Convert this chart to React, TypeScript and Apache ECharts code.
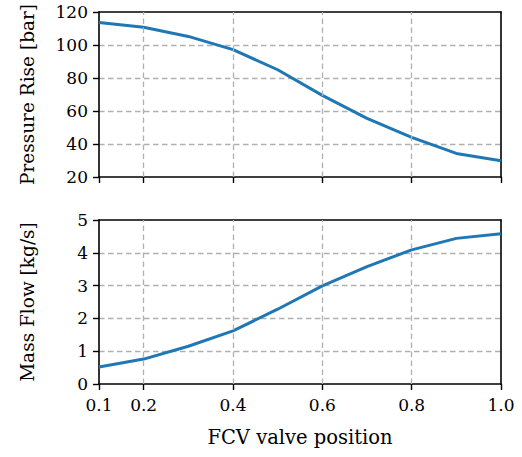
import React, { useEffect, useRef } from "react";
import * as echarts from "echarts";

const valvePosition = [0.1, 0.2, 0.3, 0.4, 0.5, 0.6, 0.7, 0.8, 0.9, 1.0];
const pressureRise = [113.7, 110.8, 105.2, 97.2, 85.0, 69.5, 55.5, 44.0, 34.3, 29.9];
const massFlow = [0.52, 0.76, 1.15, 1.62, 2.28, 2.99, 3.58, 4.09, 4.44, 4.58];
const xTickValues = [0.1, 0.2, 0.4, 0.6, 0.8, 1.0];
const xGridValues = [0.2, 0.4, 0.6, 0.8];

const FONT = "'DejaVu Serif', 'Liberation Serif', serif";
const BLACK = "#000";
const GRID_COLOR = "#b0b0b0";
const LINE_COLOR = "#1f77b4";

export default function App() {
  const ref = useRef<HTMLDivElement>(null);
  useEffect(() => {
    if (!ref.current) return;
    const chart = echarts.init(ref.current, undefined, { renderer: "svg" });

    const dashed = { color: GRID_COLOR, width: 1.3, type: [5.5, 3.5] as any };

    const mainX = (gridIndex: number, showLabels: boolean) => ({
      type: "value",
      gridIndex,
      min: 0.1,
      max: 1.0,
      position: "bottom",
      axisLine: { show: true, onZero: false, lineStyle: { color: BLACK, width: 1.6 } },
      axisTick: { show: true, length: 6, lineStyle: { color: BLACK, width: 1.4 }, customValues: xTickValues },
      axisLabel: {
        show: showLabels,
        customValues: xTickValues,
        color: BLACK,
        fontFamily: FONT,
        fontSize: 17,
        margin: 12,
        formatter: (v: number) => v.toFixed(1),
      },
      splitLine: { show: false },
      ...(showLabels
        ? {
            name: "FCV valve position",
            nameLocation: "middle",
            nameGap: 43,
            nameTextStyle: { color: BLACK, fontFamily: FONT, fontSize: 19.5 },
          }
        : {}),
    });
    const frameX = (gridIndex: number) => ({
      type: "value",
      gridIndex,
      min: 0.1,
      max: 1.0,
      position: "top",
      axisLine: { show: true, onZero: false, lineStyle: { color: BLACK, width: 1.6 } },
      axisTick: { show: false },
      axisLabel: { show: false },
      splitLine: { show: false },
    });
    const mainY = (gridIndex: number, min: number, max: number, interval: number, name: string) => ({
      type: "value",
      gridIndex,
      min,
      max,
      interval,
      position: "left",
      name,
      nameLocation: "middle",
      nameGap: 62,
      nameTextStyle: { color: BLACK, fontFamily: FONT, fontSize: 18.5 },
      axisLine: { show: true, onZero: false, lineStyle: { color: BLACK, width: 1.6 } },
      axisTick: { show: true, length: 6, lineStyle: { color: BLACK, width: 1.4 } },
      axisLabel: { color: BLACK, fontFamily: FONT, fontSize: 17, margin: 11 },
      splitLine: { show: true, showMinLine: false, showMaxLine: false, lineStyle: dashed },
    });
    const frameY = (gridIndex: number, min: number, max: number) => ({
      type: "value",
      gridIndex,
      min,
      max,
      position: "right",
      axisLine: { show: true, onZero: false, lineStyle: { color: BLACK, width: 1.6 } },
      axisTick: { show: false },
      axisLabel: { show: false },
      splitLine: { show: false },
    });

    const markLine = {
      silent: true,
      symbol: ["none", "none"],
      label: { show: false },
      lineStyle: dashed,
      data: xGridValues.map((v) => ({ xAxis: v })),
    };

    chart.setOption({
      animation: false,
      backgroundColor: "#fff",
      grid: [
        { left: 99, right: 21, top: 12, height: 165 },
        { left: 99, right: 21, top: 220, height: 164 },
      ],
      xAxis: [mainX(0, false), mainX(1, true), frameX(0), frameX(1)],
      yAxis: [
        mainY(0, 20, 120, 20, "Pressure Rise [bar]"),
        mainY(1, 0, 5, 1, "Mass Flow [kg/s]"),
        frameY(0, 20, 120),
        frameY(1, 0, 5),
      ],
      series: [
        {
          type: "line",
          xAxisIndex: 0,
          yAxisIndex: 0,
          data: valvePosition.map((x, i) => [x, pressureRise[i]]),
          symbol: "none",
          lineStyle: { color: LINE_COLOR, width: 3 },
          markLine,
          z: 3,
        },
        {
          type: "line",
          xAxisIndex: 1,
          yAxisIndex: 1,
          data: valvePosition.map((x, i) => [x, massFlow[i]]),
          symbol: "none",
          lineStyle: { color: LINE_COLOR, width: 3 },
          markLine,
          z: 3,
        },
      ],
    });
    return () => chart.dispose();
  }, []);
  return (
    <div
      ref={ref}
      style={{ position: "fixed", left: 0, top: 0, width: 522, height: 457, background: "#fff" }}
    />
  );
}
